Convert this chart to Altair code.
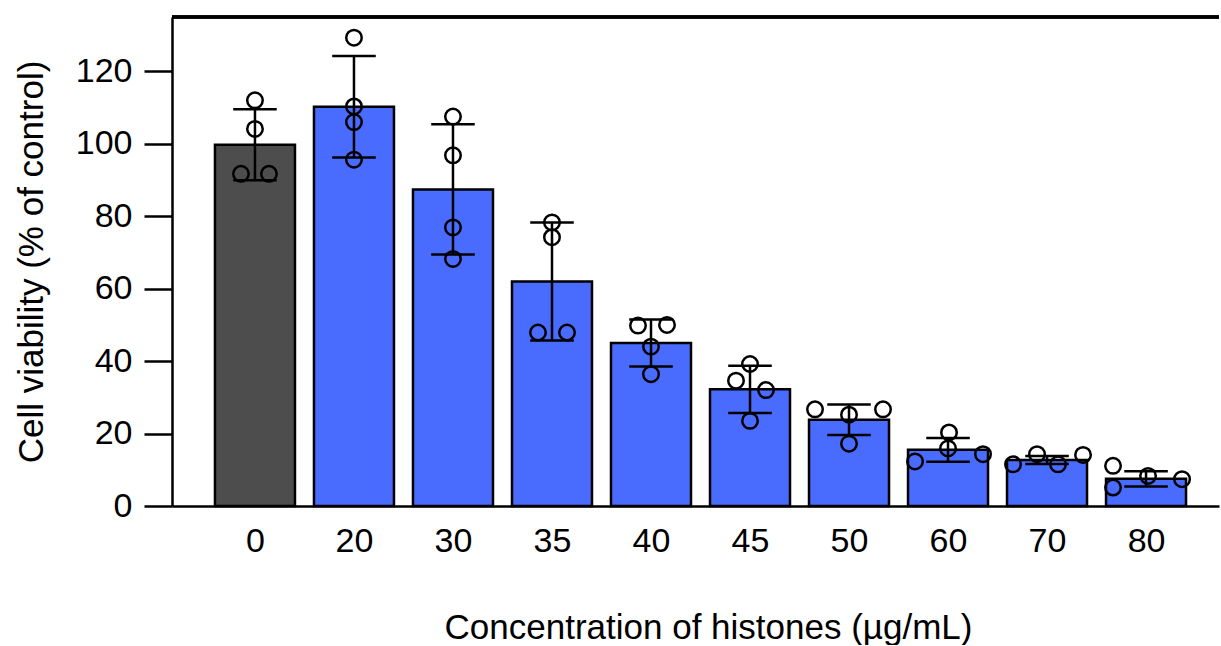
import altair as alt
import pandas as pd

# ---- data ----
concentrations = ["0", "20", "30", "35", "40", "45", "50", "60", "70", "80"]
groups = ["control", "histone", "histone", "histone", "histone",
          "histone", "histone", "histone", "histone", "histone"]
means = [99.7, 110.2, 87.4, 62.0, 45.0, 32.2, 23.8, 15.5, 12.7, 7.5]
sds = [9.8, 14.0, 18.0, 16.3, 6.5, 6.5, 4.2, 3.3, 1.1, 2.1]

# individual replicates (4 per concentration) and their horizontal spread
# (spread in hundredths of a category step)
replicates = [
    [112.0, 104.1, 91.7, 91.7],
    [129.3, 110.3, 106.0, 95.6],
    [107.5, 96.8, 76.9, 68.2],
    [78.3, 74.2, 47.9, 47.9],
    [49.8, 50.0, 44.0, 36.4],
    [39.2, 34.6, 32.0, 23.5],
    [26.7, 26.7, 25.2, 17.2],
    [20.3, 15.9, 12.3, 14.3],
    [11.5, 14.3, 11.5, 14.1],
    [11.1, 5.1, 8.3, 7.4],
]
spread = [
    [0, 0, -14, 14],
    [0, 0, 0, 0],
    [0, 0, 0, 0],
    [0, 0, -14, 15],
    [-13, 16, 0, 0],
    [0, -14, 16, 0],
    [-34, 34, 0, 0],
    [1, 0, -33, 35],
    [-34, -10, 11, 36],
    [-33, -33, 2, 36],
]

summary = pd.DataFrame({
    "pos": list(range(len(concentrations))),
    "conc": concentrations,
    "group": groups,
    "mean": means,
    "sd": sds,
})
summary["lo"] = summary["mean"] - summary["sd"]
summary["hi"] = summary["mean"] + summary["sd"]

rows = []
for i, (vals, offs) in enumerate(zip(replicates, spread)):
    for v, o in zip(vals, offs):
        rows.append({"pos": i, "val": v, "off": o})
points = pd.DataFrame(rows)

W, H = 1047, 489
FONT = "Liberation Sans"
HALF_BAR = 0.404   # half bar width, in category steps
CAP = 0.22         # half cap width, in category steps

label_expr = "[" + ",".join("'%s'" % c for c in concentrations) + "][datum.value]"

x_scale = alt.Scale(domain=[-0.838, 9.737], nice=False, zero=False)
x_axis = alt.Axis(title="Concentration of histones (µg/mL)",
                  values=list(range(len(concentrations))), labelExpr=label_expr,
                  labelAngle=0, ticks=False, grid=False, labelPadding=18,
                  labelFontSize=34, labelColor="black", labelFont=FONT,
                  labelFlush=False, labelOverlap=False,
                  titleFontSize=35, titleFont=FONT, titleColor="black",
                  titleFontWeight="normal", titlePadding=52,
                  titleX=536, domainColor="black", domainWidth=2.5)
y_scale = alt.Scale(domain=[0, 135], nice=False)
y_axis = alt.Axis(title="Cell viability (% of control)", values=[0, 20, 40, 60, 80, 100, 120],
                  grid=False, tickSize=28, tickWidth=2.5, tickColor="black",
                  labelFontSize=34, labelColor="black", labelFont=FONT, labelPadding=12,
                  titleFontSize=35, titleFont=FONT, titleColor="black",
                  titleFontWeight="normal", titlePadding=26,
                  domainColor="black", domainWidth=2.5)

base = alt.Chart(summary)

bars = base.transform_calculate(
    x0=f"datum.pos - {HALF_BAR}", x1=f"datum.pos + {HALF_BAR}"
).mark_rect(stroke="black", strokeWidth=2.5).encode(
    x=alt.X("x0:Q", scale=x_scale, axis=x_axis),
    x2="x1:Q",
    y=alt.Y("mean:Q", scale=y_scale, axis=y_axis),
    y2=alt.datum(0),
    color=alt.Color("group:N", scale=alt.Scale(domain=["control", "histone"],
                                               range=["#4d4d4d", "#4a6cfe"]),
                    legend=None),
)

err = base.mark_rule(color="black", strokeWidth=2.5).encode(
    x="pos:Q", y="lo:Q", y2="hi:Q",
)

caps = base.transform_fold(["lo", "hi"], as_=["k", "v"]).transform_calculate(
    c0=f"datum.pos - {CAP}", c1=f"datum.pos + {CAP}"
).mark_rule(color="black", strokeWidth=2.5).encode(
    x="c0:Q", x2="c1:Q", y="v:Q",
)

dots = alt.Chart(points).transform_calculate(
    px="datum.pos + datum.off / 99"
).mark_point(shape="circle", filled=False, stroke="black",
             strokeWidth=2.5, size=240, opacity=1).encode(
    x="px:Q",
    y="val:Q",
)

top = base.mark_rule(color="black", strokeWidth=2.5).encode(
    x=alt.value(0), x2=alt.value(W), y=alt.value(0))

chart = alt.layer(bars, err, caps, dots, top).properties(
    width=W, height=H,
    padding={"left": 14, "top": 15, "right": 0, "bottom": 0},
    background="white",
).configure_view(stroke=None)

chart.save("out.html", embed_options={"renderer": "svg", "actions": False})
